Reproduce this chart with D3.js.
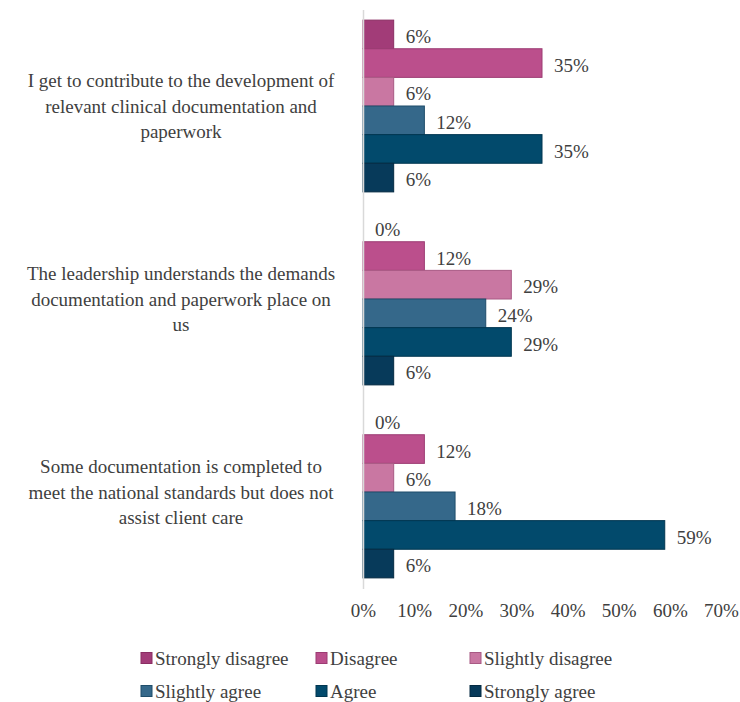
<!DOCTYPE html>
<html>
<head>
<meta charset="utf-8">
<script src="https://cdn.jsdelivr.net/npm/d3@7"></script>
<style>
  body { margin: 0; background: #fff; }
</style>
</head>
<body>
<div id="chart"></div>
<script>
// data
var categories = [
  "I get to contribute to the development of relevant clinical documentation and paperwork",
  "The leadership understands the demands documentation and paperwork place on us",
  "Some documentation is completed to meet the national standards but does not assist client care"
];
var categoryLines = [
  ["I get to contribute to the development of", "relevant clinical documentation and", "paperwork"],
  ["The leadership understands the demands", "documentation and paperwork place on", "us"],
  ["Some documentation is completed to", "meet the national standards but does not", "assist client care"]
];
var seriesNames = ["Strongly disagree", "Disagree", "Slightly disagree", "Slightly agree", "Agree", "Strongly agree"];
var stronglyDisagree = [6, 0, 0];
var disagree = [35, 12, 12];
var slightlyDisagree = [6, 29, 6];
var slightlyAgree = [12, 24, 18];
var agree = [35, 29, 59];
var stronglyAgree = [6, 6, 6];
var xTicks = [0, 10, 20, 30, 40, 50, 60, 70];

var seriesValues = [stronglyDisagree, disagree, slightlyDisagree, slightlyAgree, agree, stronglyAgree];
var fills = ["#a23c78", "#bb4f8c", "#c977a2", "#35688a", "#024a6c", "#073a5a"];
var strokes = ["#8a2e63", "#9c3c73", "#a85a84", "#1f4d6a", "#013650", "#042a42"];

var fontFamily = "Liberation Serif";
var textColor = "#404040";

var svgWidth = 740;
var svgHeight = 702;

// plot area
var margin = { top: 9.5, left: 363 };
var width = 358;
var height = 579;

var svg = d3.select("#chart")
  .append("svg")
  .attr("width", svgWidth)
  .attr("height", svgHeight)
  .attr("font-family", fontFamily);

var chartGroup = svg.append("g")
  .attr("transform", `translate(${margin.left}, ${margin.top})`);

// scales
var xScale = d3.scaleLinear()
  .domain([0, 70])
  .range([0, width]);

var yScale = d3.scaleBand()
  .domain(categories)
  .range([0, height])
  .paddingInner(0.11)
  .paddingOuter(0.055);

var innerScale = d3.scaleBand()
  .domain(seriesNames)
  .range([0, yScale.bandwidth()]);

var color = d3.scaleOrdinal().domain(seriesNames).range(fills);
var strokeColor = d3.scaleOrdinal().domain(seriesNames).range(strokes);

// flatten into rows
var rows = [];
categories.forEach(function(cat, i) {
  seriesNames.forEach(function(s, j) {
    rows.push({ cat: cat, series: s, value: seriesValues[j][i] });
  });
});

// bars
chartGroup.selectAll("rect.bar")
  .data(rows)
  .enter()
  .append("rect")
  .attr("class", "bar")
  .attr("x", xScale(0))
  .attr("y", d => yScale(d.cat) + innerScale(d.series))
  .attr("width", d => xScale(d.value))
  .attr("height", innerScale.bandwidth())
  .attr("fill", d => color(d.series))
  .attr("stroke", d => d.value > 0 ? strokeColor(d.series) : "none")
  .attr("stroke-width", 1);

// value labels
chartGroup.selectAll("text.val")
  .data(rows)
  .enter()
  .append("text")
  .attr("class", "val")
  .attr("x", d => xScale(d.value) + 12)
  .attr("y", d => yScale(d.cat) + innerScale(d.series) + innerScale.bandwidth() / 2 + 2)
  .attr("dy", "0.35em")
  .attr("font-family", fontFamily)
  .attr("font-size", 19)
  .attr("fill", textColor)
  .text(d => d.value + "%");

// vertical axis line
var leftAxis = d3.axisLeft(yScale).tickSize(0).tickFormat("");
var yAxisG = chartGroup.append("g").call(leftAxis);
yAxisG.select(".domain").attr("stroke", "#d9d9d9").attr("stroke-width", 1.5);

// category labels
categories.forEach(function(cat, i) {
  var cy = yScale(cat) + yScale.bandwidth() / 2;
  var t = chartGroup.append("text")
    .attr("text-anchor", "middle")
    .attr("font-family", fontFamily)
    .attr("font-size", 19)
    .attr("fill", textColor);
  categoryLines[i].forEach(function(line, k) {
    t.append("tspan")
      .attr("x", 181 - margin.left)
      .attr("y", cy + (k - 1) * 25.5)
      .attr("dy", "0.35em")
      .text(line);
  });
});

// x axis
var bottomAxis = d3.axisBottom(xScale)
  .tickValues(xTicks)
  .tickSize(0)
  .tickPadding(15)
  .tickFormat(d => d + "%");

var xAxisG = chartGroup.append("g")
  .attr("transform", `translate(0, ${height})`)
  .call(bottomAxis)
  .attr("font-family", fontFamily)
  .attr("font-size", 19);
xAxisG.select(".domain").remove();
xAxisG.selectAll("text")
  .attr("fill", textColor);

// legend
var legendCols = [141, 316, 470];
var legendRows = [658, 691];
var legend = svg.selectAll("g.legend")
  .data(seriesNames)
  .enter()
  .append("g")
  .attr("class", "legend")
  .attr("transform", (d, i) => `translate(${legendCols[i % 3]}, ${legendRows[Math.floor(i / 3)]})`);

legend.append("rect")
  .attr("x", 0)
  .attr("y", -5.5)
  .attr("width", 11)
  .attr("height", 11)
  .attr("fill", d => color(d))
  .attr("stroke", d => strokeColor(d));

legend.append("text")
  .attr("x", 14)
  .attr("y", 0)
  .attr("dy", "0.35em")
  .attr("font-family", fontFamily)
  .attr("font-size", 19)
  .attr("fill", textColor)
  .text(d => d);
</script>
</body>
</html>
